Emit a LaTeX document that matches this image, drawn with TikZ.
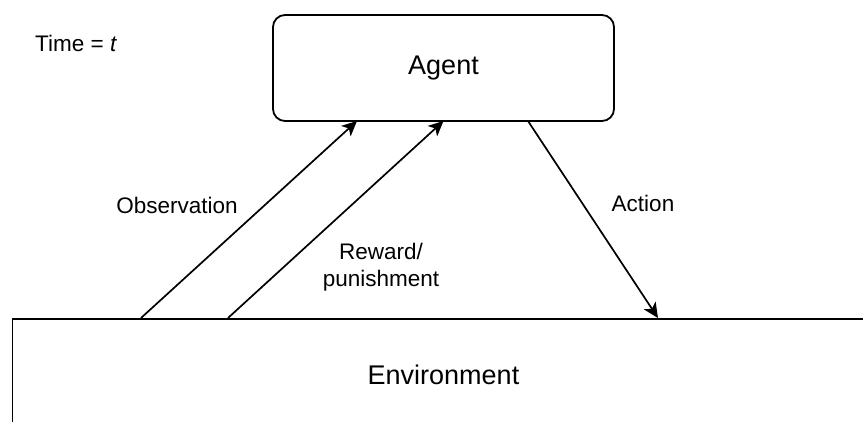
\documentclass[tikz,border=0pt]{standalone}
\usepackage{fontspec}
\setmainfont{Liberation Sans}
\usetikzlibrary{arrows.meta}
\begin{document}
\begin{tikzpicture}[x=1pt,y=-1pt,
  box/.style={draw=black,line width=1.8pt,fill=white,inner sep=0pt},
  flow/.style={line width=1.7pt,-{Stealth[length=15pt,width=14pt,inset=4pt]}},
  small/.style={font=\fontsize{22.5}{27}\selectfont,align=center,inner sep=0pt},
  big/.style={font=\fontsize{27}{32}\selectfont,inner sep=0pt}]
  \useasboundingbox (0,0) rectangle (863,422);
  \clip (0,0) rectangle (863,422);

  % the agent and the environment
  \node[box,rounded corners=12pt,minimum width=341pt,minimum height=106pt] (agent) at (443.5,68) {};
  \node[big] (agentlabel) at (443.5,68) {Agent};
  \node[box,minimum width=900pt,minimum height=160pt,anchor=north west] (env) at (11.5,318) {};
  \node[big] (envlabel) at (443.5,375) {Environment};

  % ends of the connectors
  \coordinate (obsfrom) at (141,318);
  \coordinate (obsto) at (357,121);
  \coordinate (rewfrom) at (228,318);
  \coordinate (rewto) at (443.5,121);
  \coordinate (actfrom) at (528,121);
  \coordinate (actto) at (658,318);

  \draw[flow] (obsfrom) -- (obsto);
  \draw[flow] (rewfrom) -- (rewto);
  \draw[flow] (actfrom) -- (actto);

  % labels
  \node[small,anchor=west] (time) at (35,43) {Time = \textit{t}};
  \node[small] (obslabel) at (177,205) {Observation};
  \node[small] (rewlabel) at (381,267) {Reward/\\punishment};
  \node[small] (actlabel) at (643,203) {Action};
\end{tikzpicture}
\end{document}
